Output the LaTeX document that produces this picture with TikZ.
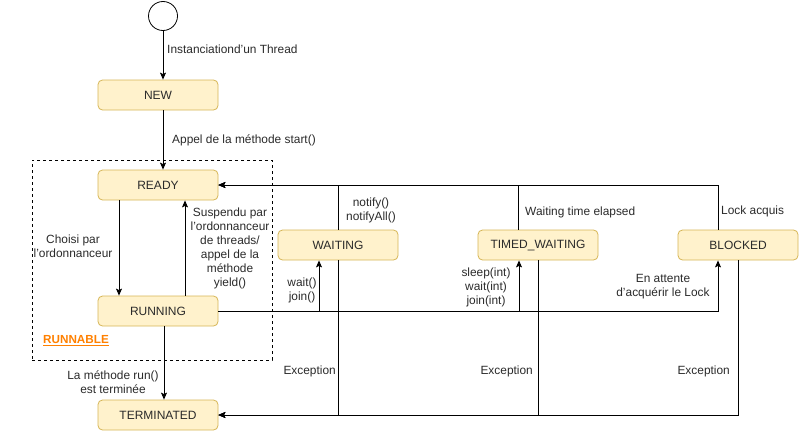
\documentclass[tikz,border=0pt]{standalone}
\usepackage{fontspec}
\setmainfont{Liberation Sans}
\usetikzlibrary{arrows.meta}
\definecolor{boxfill}{HTML}{FFF2CC}
\definecolor{boxdraw}{HTML}{D6B656}
\definecolor{txt}{HTML}{2A2A2A}
\definecolor{runorange}{HTML}{FF8000}
\begin{document}
\begin{tikzpicture}[x=1pt,y=-1pt,
 state/.style={draw=boxdraw, fill=boxfill, rounded corners=4.5pt, minimum width=120pt, minimum height=30pt, inner sep=0pt, font=\fontsize{12}{14}\selectfont, text=txt, line width=0.8pt},
 lbl/.style={font=\fontsize{11.9}{14}\selectfont, text=txt, inner sep=0pt, align=center},
 conn/.style={line width=0.9pt, -{Stealth[length=7pt,width=6pt,inset=1.5pt]}},
 frame/.style={draw, dashed, line width=0.8pt, minimum width=240pt, minimum height=200pt, inner sep=0pt}]
\useasboundingbox (0,0) rectangle (799,431);
% frame
\node[frame] (runnable) at (152,260) {};
% states
\node[draw, circle, minimum size=29pt, inner sep=0pt, line width=0.8pt, fill=white] (start) at (163,16) {};
\node[state] (new) at (158,95) {NEW};
\node[state] (ready) at (158,185) {READY};
\node[state] (running) at (158,311) {RUNNING};
\node[state] (term) at (158,415) {TERMINATED};
\node[state] (wait) at (338,245) {WAITING};
\node[state] (timed) at (538,245) {TIMED\_WAITING};
\node[state] (blocked) at (738,245) {BLOCKED};
% connectors
\draw[conn] (start.south) -- (new.north -| start.south);
\draw[conn] ([xshift=5pt]new.south) -- ([xshift=5pt]ready.north);
\draw[conn] ([xshift=-39pt]ready.south) -- ([xshift=-39pt]running.north);
\draw[conn] ([xshift=27pt]running.north) -- ([xshift=27pt]ready.south);
\draw[conn] ([xshift=6pt]running.south) -- ([xshift=6pt]term.north);
\draw[conn] (wait.north) |- (ready.east);
\draw[conn] ([xshift=-20pt]timed.north) |- (ready.east);
\draw[conn] ([xshift=-20pt]blocked.north) |- (ready.east);
\draw[conn] (running.east) -| ([xshift=-19pt]wait.south);
\draw[conn] (running.east) -| ([xshift=-19pt]timed.south);
\draw[conn] (running.east) -| ([xshift=-20pt]blocked.south);
\draw[conn] (wait.south) |- (term.east);
\draw[conn] (timed.south) |- (term.east);
\draw[conn] (blocked.south) |- (term.east);
% labels
\node[lbl, anchor=west] (l1) at (167,49) {Instanciationd’un Thread};
\node[lbl, anchor=west] (l2) at (172,140) {Appel de la méthode start()};
\node[lbl] (l3) at (73,246) {Choisi par\\l'ordonnanceur};
\node[lbl] (l4) at (230,248.5) {Suspendu par\\l'ordonnanceur\\de threads/\\appel de la\\méthode\\yield()};
\node[lbl] (l5) at (113,382.5) {La méthode run()\\est terminée};
\node[lbl] (l6) at (371,210) {notify()\\notifyAll()};
\node[lbl] (l7) at (302,290) {wait()\\join()};
\node[lbl] (l8) at (486,287) {sleep(int)\\wait(int)\\join(int)};
\node[lbl, anchor=west] (l9) at (525,212) {Waiting time elapsed};
\node[lbl, anchor=west] (l10) at (721,211) {Lock acquis};
\node[lbl] (l11) at (663,287) {En attente\\d'acquérir le Lock};
\node[lbl, anchor=east] (l12) at (336,371) {Exception};
\node[lbl, anchor=east] (l13) at (533,371) {Exception};
\node[lbl, anchor=east] (l14) at (730,371) {Exception};
\node[lbl, anchor=west, font=\fontsize{11.7}{14}\selectfont\bfseries, text=runorange] (l15) at (43,341) {\underline{RUNNABLE}};
\end{tikzpicture}
\end{document}
